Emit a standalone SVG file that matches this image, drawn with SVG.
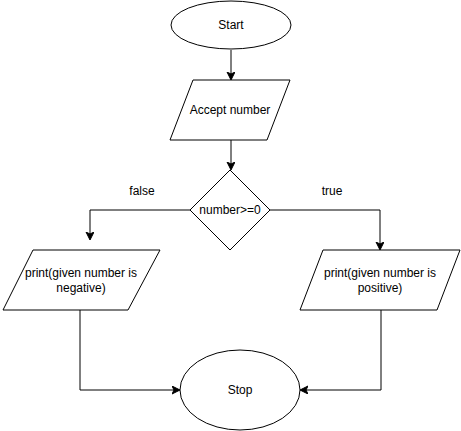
<svg xmlns="http://www.w3.org/2000/svg" width="461" height="431" viewBox="0 0 461 431">
<defs>
<marker id="arr" markerWidth="10" markerHeight="10" refX="7" refY="4" orient="auto" markerUnits="userSpaceOnUse">
<path d="M0,0 L8,4 L0,8 L2,4 Z" fill="#000" stroke="#000" stroke-width="1"/>
</marker>
</defs>
<style>
.s{fill:#fff;stroke:#000;stroke-width:1}
.c{fill:none;stroke:#000;stroke-width:1}
text{font-family:"Liberation Sans",Arial,sans-serif;font-size:12px;fill:#000;text-anchor:middle}
</style>
<rect width="461" height="431" fill="#fff"/>
<g id="connectors">
<path class="c" d="M231,50 V79" marker-end="url(#arr)"/>
<path class="c" d="M231,140 V169" marker-end="url(#arr)"/>
<path class="c" d="M190,210 H90 V239" marker-end="url(#arr)"/>
<path class="c" d="M270,210 H380 V249" marker-end="url(#arr)"/>
<path class="c" d="M80,310 V390 H179" marker-end="url(#arr)"/>
<path class="c" d="M381,310 V390 H301" marker-end="url(#arr)"/>
<text x="142" y="195">false</text>
<text x="332" y="195">true</text>
</g>
<g id="start">
<ellipse class="s" cx="231" cy="25" rx="60" ry="24"/>
<text x="231" y="29">Start</text>
</g>
<g id="accept">
<polygon class="s" points="193,80 290,80 267,140 170,140"/>
<text x="230" y="114">Accept number</text>
</g>
<g id="decision">
<polygon class="s" points="230,170 270,210 230,250 190,210"/>
<text x="230" y="214">number&gt;=0</text>
</g>
<g id="negative">
<polygon class="s" points="33,250 160,250 128,310 3,310"/>
<text x="81" y="277">print(given number is</text>
<text x="81" y="292">negative)</text>
</g>
<g id="positive">
<polygon class="s" points="323,250 460,250 437,310 300,310"/>
<text x="380" y="277">print(given number is</text>
<text x="380" y="292">positive)</text>
</g>
<g id="stop">
<ellipse class="s" cx="240" cy="390" rx="60" ry="40"/>
<text x="240" y="394">Stop</text>
</g>
</svg>
